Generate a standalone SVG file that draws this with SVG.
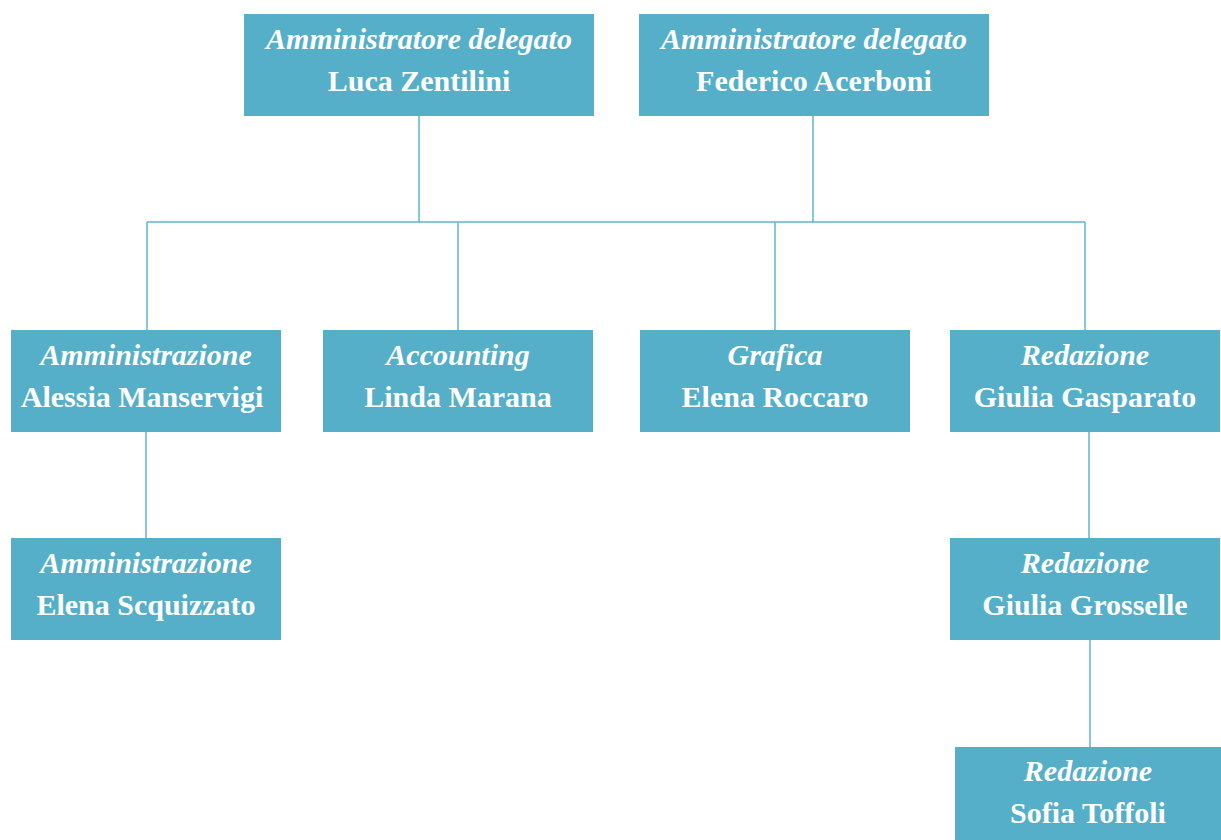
<svg xmlns="http://www.w3.org/2000/svg" width="1221" height="840" viewBox="0 0 1221 840">
<style>
.box{fill:#55afc9}
.t1{font-family:"Liberation Serif","Times New Roman",serif;font-style:italic;font-weight:bold;font-size:30px;fill:#fff;text-anchor:middle}
.t2{font-family:"Liberation Serif","Times New Roman",serif;font-weight:bold;font-size:30px;fill:#fff;text-anchor:middle}
.ln{stroke:#62b5cd;stroke-width:1.5;fill:none}
</style>
<rect width="1221" height="840" fill="#fff"/>
<g id="connectors">
<path class="ln" d="M419 116V222M813 116V222M147 222H1085M147 222V330M458 222V330M775 222V330M1085 222V330M146 432V538M1089 432V538M1090 640V747"/>
</g>
<g id="n1"><rect class="box" x="244" y="14" width="350" height="102"/><text class="t1" x="419" y="49">Amministratore delegato</text><text class="t2" x="419" y="91">Luca Zentilini</text></g>
<g id="n2"><rect class="box" x="639" y="14" width="350" height="102"/><text class="t1" x="814" y="49">Amministratore delegato</text><text class="t2" x="814" y="91">Federico Acerboni</text></g>
<g id="n3"><rect class="box" x="11" y="330" width="270" height="102"/><text class="t1" x="146" y="365">Amministrazione</text><text class="t2" x="142" y="407">Alessia Manservigi</text></g>
<g id="n4"><rect class="box" x="323" y="330" width="270" height="102"/><text class="t1" x="458" y="365">Accounting</text><text class="t2" x="458" y="407">Linda Marana</text></g>
<g id="n5"><rect class="box" x="640" y="330" width="270" height="102"/><text class="t1" x="775" y="365">Grafica</text><text class="t2" x="775" y="407">Elena Roccaro</text></g>
<g id="n6"><rect class="box" x="950" y="330" width="270" height="102"/><text class="t1" x="1085" y="365">Redazione</text><text class="t2" x="1085" y="407">Giulia Gasparato</text></g>
<g id="n7"><rect class="box" x="11" y="538" width="270" height="102"/><text class="t1" x="146" y="573">Amministrazione</text><text class="t2" x="146" y="615">Elena Scquizzato</text></g>
<g id="n8"><rect class="box" x="950" y="538" width="270" height="102"/><text class="t1" x="1085" y="573">Redazione</text><text class="t2" x="1085" y="615">Giulia Grosselle</text></g>
<g id="n9"><rect class="box" x="955" y="747" width="266" height="93"/><text class="t1" x="1088" y="781">Redazione</text><text class="t2" x="1088" y="823">Sofia Toffoli</text></g>
</svg>
